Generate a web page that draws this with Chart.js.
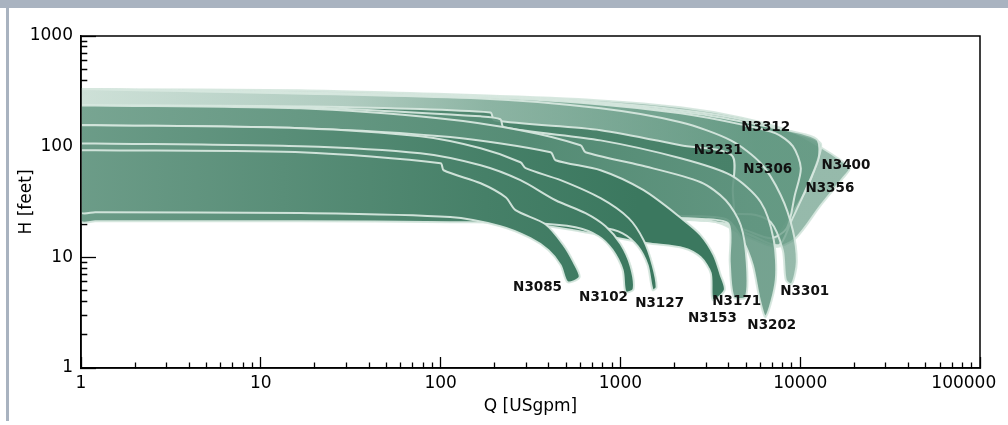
<!DOCTYPE html>
<html>
<head>
<meta charset="utf-8">
<title>Pump performance ranges</title>
<script src="https://cdn.jsdelivr.net/npm/chart.js@4.4.1/dist/chart.umd.min.js"></script>
<style>
  html, body { margin: 0; padding: 0; background: #fff; }
  #wrap { position: relative; width: 1008px; height: 425px; overflow: hidden; }
  #topbar { position: absolute; left: 0; top: 0; width: 1008px; height: 8px; background: #a9b3c0; }
  #sidebar { position: absolute; left: 6px; top: 0; width: 3px; height: 421px; background: #a9b3c0; }
  canvas { position: absolute; left: 0; top: 0; }
</style>
</head>
<body>
<div id="wrap">
  <div id="topbar"></div>
  <div id="sidebar"></div>
  <canvas id="chart" width="1008" height="425"></canvas>
</div>
<script>
// Outline of each pump's working range, [Q USgpm, H feet]:
// along the upper curve out to the tip, then back along the lower curve.
const N3085 = [[1,92.8],[1.2,92.7],[16.6,89],[100,70.8],[104,61.2],[167,46.7],[230,34.9],[261,26.7],[383,19.9],[483,12.9],[549,9.05],[593,6.63],[508,5.97],[465,8.5],[398,11.6],[316,14.9],[215,19.1],[113,23.1],[16.6,25.1],[1.2,25.6],[1,25.6],[1,92.8]];
const N3102 = [[1,107],[1.2,107],[16.6,101],[77.2,87.2],[167,67.9],[278,49.8],[436,32.8],[640,25.1],[827,19.1],[1003,13.2],[1140,8.33],[1184,5.16],[1069,4.85],[1029,7.66],[905,11.6],[756,15.5],[563,18.7],[316,20.4],[113,20.8],[16.6,21.2],[1.2,21.2],[1,21.2],[1,107]];
const N3127 = [[1,156],[1.2,156],[16.6,147],[77.2,124],[167,96.7],[278,72.3],[297,63.9],[465,49.8],[776,34.2],[1111,22.6],[1346,14.3],[1511,8.5],[1591,5.38],[1511,5.06],[1417,8.5],[1247,12.6],[1029,16.5],[776,18.7],[360,21.2],[113,23.5],[16.6,25.1],[1.2,25.6],[1,25.6],[1,156]];
const N3153 = [[1,156],[1.2,156],[16.6,147],[113,122],[409,89],[436,75.4],[776,61.2],[1346,40.4],[2248,21.7],[2796,15.9],[3303,10.5],[3614,6.91],[3804,5.06],[3262,4.11],[3179,7.2],[2796,10],[2248,12.1],[1417,13.4],[776,15.9],[360,19.5],[113,23.1],[16.6,25.1],[1.2,25.6],[1,25.6],[1,156]];
const N3171 = [[1,236],[1.2,236],[16.6,222],[100,180],[278,141],[600,103],[640,89],[1296,67.9],[2796,47.7],[3853,32.8],[4670,19.5],[5044,9.05],[4980,4.37],[4269,4.37],[4056,9.05],[4004,19.9],[2981,22.1],[776,23.5],[16.6,25.1],[1.2,25.6],[1,25.6],[1,236]];
const N3202 = [[1,236],[1.2,236],[16.6,227],[167,188],[215,177],[224,150],[776,114],[2164,78.6],[4108,55.2],[6036,31.5],[7129,14.3],[7314,6.23],[6434,2.89],[5960,4.11],[5447,8.5],[4791,14.3],[3953,21.7],[2796,23.5],[16.6,25.1],[1.2,25.6],[1,25.6],[1,236]];
const N3231 = [[1,236],[1.2,236],[16.6,231],[189,204],[199,173],[776,141],[2164,103],[4162,83.6],[4215,40.4],[4162,20.8],[2796,22.1],[776,23.5],[16.6,25.1],[1.2,25.6],[1,25.6],[1,236]];
const N3301 = [[1,330],[1.2,330],[167,273],[776,222],[2164,166],[4108,114],[6036,70.8],[7798,36.4],[9097,17.6],[9574,9.05],[8980,5.73],[8315,6.23],[8000,11.6],[6862,20.8],[5309,24.5],[776,24.5],[16.6,25.6],[1.2,25.6],[1,25.6],[1,330]];
const N3306 = [[1,330],[1.2,330],[167,279],[776,241],[2164,200],[4670,159],[7314,132],[9097,101],[10080,63.9],[9331,36.4],[8423,18.3],[6862,14.9],[4980,17.6],[3389,21.2],[215,24],[16.6,25.1],[1.2,25.6],[1,25.6],[1,330]];
const N3312 = [[1,330],[1.2,330],[167,285],[776,246],[2796,196],[6862,150],[10750,129],[12530,114],[12690,80.2],[11460,51.9],[8865,20.8],[7602,12.9],[5309,15.9],[3389,21.2],[215,24],[16.6,25.1],[1.2,25.6],[1,25.6],[1,330]];
const N3356 = [[1,330],[1.2,330],[167,285],[776,252],[2796,204],[6036,163],[10080,129],[13020,107],[12220,67.9],[10750,40.4],[8865,24],[7040,14.3],[4980,16.5],[3389,21.2],[215,24],[16.6,25.1],[1.2,25.6],[1,25.6],[1,330]];
const N3400 = [[1,330],[1.2,330],[16.6,323],[167,291],[776,262],[2164,227],[4670,184],[8865,138],[13020,98.8],[16830,75.4],[18890,63.9],[17270,51.9],[13020,29.6],[9451,14.9],[7314,12.4],[4980,15.5],[3389,20.8],[1473,22.1],[215,24],[16.6,25.1],[1.2,25.6],[1,25.6],[1,330]];

// smallest first: dataset 0 is painted on top
const modelNames = ['N3085','N3102','N3127','N3153','N3171','N3202','N3231','N3301','N3306','N3312','N3356','N3400'];
const outlines = [N3085, N3102, N3127, N3153, N3171, N3202, N3231, N3301, N3306, N3312, N3356, N3400];
const tones = ['dark','dark','dark','dark','mid','mid','deep','light','light','light','light','light'];

// where each model name sits (Q, H)
const labelQ = [346, 806, 1652, 3250, 4436, 6950, 3500, 10600, 6600, 6430, 14620, 17950];
const labelH = [5.38, 4.3, 3.8, 2.8, 4.0, 2.4, 92.8, 4.95, 62, 150, 41.7, 67];

const xTicks = [];
for (let e = 0; e < 5; e++) for (let m = 1; m < 10; m++) xTicks.push(m * Math.pow(10, e));
xTicks.push(100000);
const yTicks = [];
for (let e = 0; e < 3; e++) for (let m = 1; m < 10; m++) yTicks.push(m * Math.pow(10, e));
yTicks.push(1000);

const palette = {
  dark:  [[0, 'rgb(108,156,136)'], [0.45, 'rgb(70,128,104)'], [0.62, 'rgb(59,120,95)'], [1, 'rgb(59,120,95)']],
  deep:  [[0, 'rgb(110,158,138)'], [0.5, 'rgb(74,131,107)'], [1, 'rgb(70,127,103)']],
  mid:   [[0, 'rgba(120,165,146,0.9)'], [0.5, 'rgba(85,140,117,0.88)'], [0.75, 'rgba(98,150,129,0.88)'], [1, 'rgba(98,150,129,0.88)']],
  light: [[0, 'rgba(205,224,215,0.7)'], [0.3, 'rgba(175,203,191,0.7)'], [0.45, 'rgba(140,180,163,0.7)'], [0.75, 'rgba(100,153,131,0.68)'], [1, 'rgba(100,153,131,0.68)']],
};

function bandFill(stops) {
  return (c) => {
    const area = c.chart.chartArea;
    if (!area) return stops[stops.length - 1][1];
    const g = c.chart.ctx.createLinearGradient(area.left, 0, area.right, 0);
    stops.forEach(([p, col]) => g.addColorStop(p, col));
    return g;
  };
}

const isDecade = (v) => Math.abs(Math.log10(v) - Math.round(Math.log10(v))) < 1e-9;
const axisFont = { family: 'DejaVu Sans', size: 17 };

const datasets = modelNames.map((name, i) => ({
  label: name,
  data: outlines[i].map(([x, y]) => ({ x, y })),
  showLine: true,
  fill: 'shape',
  backgroundColor: bandFill(palette[tones[i]]),
  borderColor: 'rgba(214,231,222,0.95)',
  borderWidth: 2,
  borderJoinStyle: 'round',
  tension: 0.28,
  pointRadius: 0,
  clip: 0,
}));

const modelLabels = {
  id: 'modelLabels',
  afterDatasetsDraw(chart) {
    const { ctx, chartArea: a, scales } = chart;
    // axis frame on top of the bands
    ctx.save();
    ctx.strokeStyle = '#000';
    ctx.lineWidth = 1.5;
    ctx.strokeRect(a.left, a.top, a.right - a.left, a.bottom - a.top);
    ctx.font = 'bold 13.5px "DejaVu Sans"';
    ctx.fillStyle = '#111';
    ctx.textAlign = 'center';
    ctx.textBaseline = 'middle';
    modelNames.forEach((name, i) => {
      ctx.fillText(name, scales.x.getPixelForValue(labelQ[i]), scales.y.getPixelForValue(labelH[i]));
    });
    ctx.restore();
  },
};

new Chart(document.getElementById('chart'), {
  type: 'scatter',
  data: { datasets },
  options: {
    responsive: false,
    animation: false,
    events: [],
    layout: { padding: { top: 36, right: 28, left: 0, bottom: 0 } },
    plugins: { legend: { display: false }, tooltip: { enabled: false } },
    scales: {
      x: {
        type: 'logarithmic',
        min: 1,
        max: 100000,
        afterBuildTicks: (s) => { s.ticks = xTicks.map((v) => ({ value: v })); },
        afterFit: (s) => { s.height = 57; s.paddingLeft = 0; s.paddingRight = 0; },
        border: { display: true, color: '#000', width: 1.5 },
        grid: {
          drawOnChartArea: false,
          tickLength: -11,
          tickColor: '#000',
          tickWidth: 1.3,
          tickBorderDash: (c) => (c.tick && !isDecade(c.tick.value) ? [6, 30] : []),
        },
        ticks: {
          autoSkip: false,
          maxRotation: 0,
          minRotation: 0,
          padding: 16,
          color: '#000',
          font: axisFont,
          // last label is pushed left so it stays inside the frame
          callback: (v) => (v === 100000 ? '100000      ' : isDecade(v) ? String(v) : ''),
        },
        title: { display: true, text: 'Q [USgpm]', color: '#000', font: axisFont, padding: { top: 0, bottom: 8 } },
      },
      y: {
        type: 'logarithmic',
        min: 1,
        max: 1000,
        afterBuildTicks: (s) => { s.ticks = yTicks.map((v) => ({ value: v })); },
        afterFit: (s) => { s.width = 81; s.paddingTop = 0; s.paddingBottom = 0; },
        border: { display: true, color: '#000', width: 1.5 },
        grid: {
          drawOnChartArea: false,
          tickLength: -15,
          tickColor: '#000',
          tickWidth: 1.3,
          tickBorderDash: (c) => (c.tick && !isDecade(c.tick.value) ? [0, 8.7, 30] : []),
        },
        ticks: {
          autoSkip: false,
          padding: 23,
          color: '#000',
          font: axisFont,
          callback: (v) => (isDecade(v) ? String(v) : ''),
        },
        title: { display: true, text: 'H [feet]', color: '#000', font: axisFont, padding: { top: 16, bottom: 0 } },
      },
    },
  },
  plugins: [modelLabels],
});
</script>
</body>
</html>
